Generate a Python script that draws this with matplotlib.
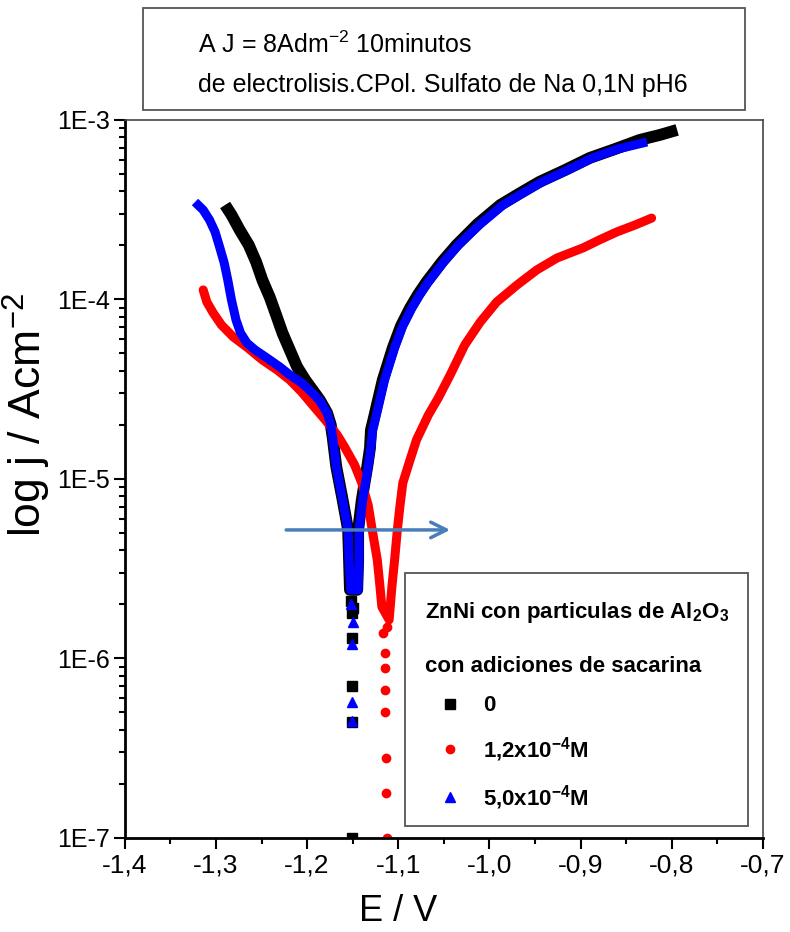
import math
import matplotlib
matplotlib.use("Agg")
import matplotlib.pyplot as plt
from matplotlib.lines import Line2D
from matplotlib.patches import Rectangle
from matplotlib.ticker import MultipleLocator, LogLocator, FuncFormatter, NullFormatter

plt.rcParams['font.family'] = ['Liberation Sans', 'DejaVu Sans']
plt.rcParams['mathtext.fontset'] = 'custom'
plt.rcParams['mathtext.rm'] = 'Liberation Sans'
plt.rcParams['mathtext.bf'] = 'Liberation Sans:bold'
plt.rcParams['mathtext.default'] = 'regular'

# saccharin 0 (black) - E in V, j in A/cm2, cathodic branch then anodic branch
black_E = [-1.290, -1.283, -1.274, -1.264, -1.256, -1.249, -1.241, -1.234, -1.227,
           -1.219, -1.211, -1.202, -1.194, -1.186, -1.178, -1.174, -1.172, -1.168,
           -1.161, -1.155, -1.154, -1.153,
           -1.145, -1.144, -1.144, -1.142, -1.140, -1.137, -1.134, -1.131, -1.130,
           -1.126, -1.117, -1.106, -1.097, -1.087, -1.078, -1.069, -1.052, -1.036,
           -1.013, -0.988, -0.966, -0.945, -0.917, -0.890, -0.862, -0.835, -0.813, -0.794]
black_j = [3.36e-4, 2.96e-4, 2.44e-4, 2.01e-4, 1.62e-4, 1.28e-4, 1.03e-4, 8.2e-5, 6.5e-5,
           5.23e-5, 4.21e-5, 3.56e-5, 3.13e-5, 2.75e-5, 2.33e-5, 2.0e-5, 1.71e-5, 1.17e-5,
           7.64e-6, 5.2e-6, 3.54e-6, 2.41e-6,
           2.41e-6, 3.54e-6, 5.2e-6, 6.3e-6, 7.64e-6, 9.5e-6, 1.17e-5, 1.49e-5, 1.87e-5,
           2.27e-5, 3.56e-5, 5.37e-5, 7.12e-5, 8.97e-5, 1.07e-4, 1.25e-4, 1.62e-4, 2.01e-4,
           2.63e-4, 3.36e-4, 3.92e-4, 4.52e-4, 5.26e-4, 6.14e-4, 6.89e-4, 7.74e-4, 8.25e-4, 8.8e-4]
black_pts_E = [-1.152, -1.150, -1.151, -1.151, -1.151, -1.151, -1.151]
black_pts_j = [2.1e-6, 1.9e-6, 1.79e-6, 1.3e-6, 7.0e-7, 4.4e-7, 1.0e-7]

# saccharin 1,2x10-4 M (red)
red_E = [-1.314, -1.310, -1.303, -1.294, -1.281, -1.265, -1.249, -1.233, -1.219,
         -1.206, -1.194, -1.180, -1.167, -1.159, -1.148, -1.140, -1.133, -1.128,
         -1.123, -1.120, -1.118,
         -1.110, -1.107, -1.104, -1.101, -1.098, -1.095, -1.087, -1.080, -1.067,
         -1.056, -1.043, -1.027, -1.010, -0.992, -0.970, -0.948, -0.926, -0.897,
         -0.879, -0.860, -0.840, -0.822]
red_j = [1.13e-4, 9.68e-5, 8.41e-5, 7.21e-5, 6.18e-5, 5.37e-5, 4.6e-5, 4.05e-5, 3.56e-5,
         3.05e-5, 2.58e-5, 2.13e-5, 1.76e-5, 1.51e-5, 1.2e-5, 9.5e-6, 7.16e-6, 5.0e-6,
         3.54e-6, 2.5e-6, 1.94e-6,
         1.64e-6, 2.5e-6, 3.54e-6, 5.2e-6, 7.16e-6, 9.5e-6, 1.28e-5, 1.65e-5, 2.27e-5,
         2.83e-5, 3.8e-5, 5.58e-5, 7.49e-5, 9.68e-5, 1.2e-4, 1.46e-4, 1.7e-4, 1.94e-4,
         2.15e-4, 2.38e-4, 2.6e-4, 2.84e-4]
red_pts_E = [-1.117, -1.115, -1.115, -1.114, -1.114, -1.113, -1.113, -1.112, -1.112]
red_pts_j = [1.39e-6, 1.07e-6, 8.9e-7, 6.7e-7, 5.0e-7, 2.8e-7, 1.78e-7, 1.0e-7, 1.5e-6]

# saccharin 5,0x10-4 M (blue)
blue_E = [-1.323, -1.314, -1.307, -1.301, -1.296, -1.291, -1.287, -1.283, -1.278,
          -1.273, -1.266, -1.257, -1.244, -1.230, -1.219, -1.206, -1.194, -1.186,
          -1.178, -1.174, -1.172, -1.168, -1.161, -1.155, -1.154, -1.152,
          -1.144, -1.143, -1.143, -1.141, -1.139, -1.136, -1.133, -1.130, -1.128,
          -1.124, -1.115, -1.104, -1.095, -1.085, -1.076, -1.067, -1.050, -1.034,
          -1.010, -0.985, -0.963, -0.942, -0.914, -0.887, -0.859, -0.827]
blue_j = [3.49e-4, 3.15e-4, 2.77e-4, 2.38e-4, 1.96e-4, 1.6e-4, 1.28e-4, 9.94e-5, 7.69e-5,
          6.5e-5, 5.72e-5, 5.23e-5, 4.72e-5, 4.21e-5, 3.8e-5, 3.43e-5, 3.01e-5, 2.72e-5,
          2.33e-5, 2.0e-5, 1.71e-5, 1.17e-5, 7.64e-6, 5.2e-6, 3.54e-6, 2.41e-6,
          2.41e-6, 3.54e-6, 5.2e-6, 6.3e-6, 7.64e-6, 9.5e-6, 1.17e-5, 1.49e-5, 1.87e-5,
          2.27e-5, 3.56e-5, 5.37e-5, 7.12e-5, 8.97e-5, 1.07e-4, 1.25e-4, 1.62e-4, 2.01e-4,
          2.63e-4, 3.36e-4, 3.92e-4, 4.52e-4, 5.26e-4, 6.14e-4, 6.89e-4, 7.54e-4]
blue_pts_E = [-1.152, -1.150, -1.151, -1.151, -1.151]
blue_pts_j = [2.0e-6, 1.6e-6, 1.2e-6, 5.7e-7, 4.5e-7]

# arrow (shift of Ecorr)
arrow_E = [-1.226, -1.040]
arrow_j = 5.2e-6

fig = plt.figure(figsize=(7.9, 9.32), dpi=100)
ax = fig.add_axes([0.158, 0.1009, 0.8076, 0.7704])

ax.plot(black_E, black_j, color='black', lw=8.5, solid_capstyle='butt', solid_joinstyle='round')
ax.plot(black_pts_E, black_pts_j, ls='none', marker='s', ms=6.5, color='black')
ax.plot(red_E, red_j, color='#ff0000', lw=6.5, solid_capstyle='round', solid_joinstyle='round')
ax.plot(red_pts_E, red_pts_j, ls='none', marker='o', ms=6, color='#ff0000')
ax.plot(blue_E, blue_j, color='#0000ff', lw=6.5, solid_capstyle='butt', solid_joinstyle='round')
ax.plot(blue_pts_E, blue_pts_j, ls='none', marker='^', ms=6.5, color='#0000ff')

ax.annotate('', xy=(arrow_E[1], arrow_j), xytext=(arrow_E[0], arrow_j),
            arrowprops=dict(arrowstyle='->', color='#4a7ebb', lw=2.5, mutation_scale=28))

ax.set_xlim(-1.4, -0.7)
ax.set_yscale('log')
ax.set_ylim(1e-7, 1e-3)

ax.xaxis.set_major_locator(MultipleLocator(0.1))
ax.xaxis.set_minor_locator(MultipleLocator(0.05))
ax.xaxis.set_major_formatter(FuncFormatter(lambda v, p: f"{v:.1f}".replace('.', ',')))
ax.yaxis.set_major_locator(LogLocator(base=10, numticks=10))
ax.yaxis.set_minor_locator(LogLocator(base=10, subs=range(2, 10), numticks=20))
ax.yaxis.set_minor_formatter(NullFormatter())
ax.yaxis.set_major_formatter(FuncFormatter(lambda v, p: f"1E{int(round(math.log10(v)))}"))

ax.tick_params(which='both', direction='out', top=False, right=False, width=1.5, color='black')
ax.tick_params(which='major', length=8, pad=3)
ax.tick_params(which='minor', length=4)
ax.tick_params(axis='x', which='major', labelsize=19)
ax.tick_params(axis='y', which='major', labelsize=18)

for s in ['left', 'bottom']:
    ax.spines[s].set_linewidth(2)
for s in ['top', 'right']:
    ax.spines[s].set_linewidth(1.2)
    ax.spines[s].set_color('#444444')

ax.set_xlabel('E / V', fontsize=26)
ax.xaxis.set_label_coords(0.428, -0.078)
ax.set_ylabel('log j / Acm$^{-2}$', fontsize=32)
ax.yaxis.set_label_coords(-0.112, 0.589)

# header box
fig.patches.append(Rectangle((0.181, 0.882), 0.762, 0.109, transform=fig.transFigure,
                             fill=False, edgecolor='#555555', lw=1.3))
fig.text(0.251, 0.952, 'A J = 8Adm$^{-2}$ 10minutos', fontsize=18, va='center')
fig.text(0.251, 0.909, 'de electrolisis.CPol. Sulfato de Na 0,1N pH6', fontsize=18, va='center')

# legend (frame drawn as a separate box)
ax.add_patch(Rectangle((0.439, 0.0167), 0.537, 0.353, transform=ax.transAxes, fill=False,
                       edgecolor='#555555', lw=1.3, zorder=6))
handles = [Line2D([], [], ls='none', marker='s', ms=7, color='black'),
           Line2D([], [], ls='none', marker='o', ms=6, color='#ff0000'),
           Line2D([], [], ls='none', marker='^', ms=7, color='#0000ff')]
labels = ['0', '1,2x10$^\\mathbf{-4}$M', '5,0x10$^\\mathbf{-4}$M']
leg = ax.legend(handles, labels, loc='upper left', bbox_to_anchor=(0.439, 0.359),
                title='ZnNi con particulas de Al$_\\mathbf{2}$O$_\\mathbf{3}$\ncon adiciones de sacarina',
                title_fontproperties={'weight': 'bold', 'size': 16},
                prop={'weight': 'bold', 'size': 16},
                alignment='left', frameon=False, borderaxespad=0,
                borderpad=0.9, labelspacing=0.85, handlelength=2.3, handletextpad=0.3)
leg.get_title().set_linespacing(2.9)

fig.savefig('out.png', dpi=100)
